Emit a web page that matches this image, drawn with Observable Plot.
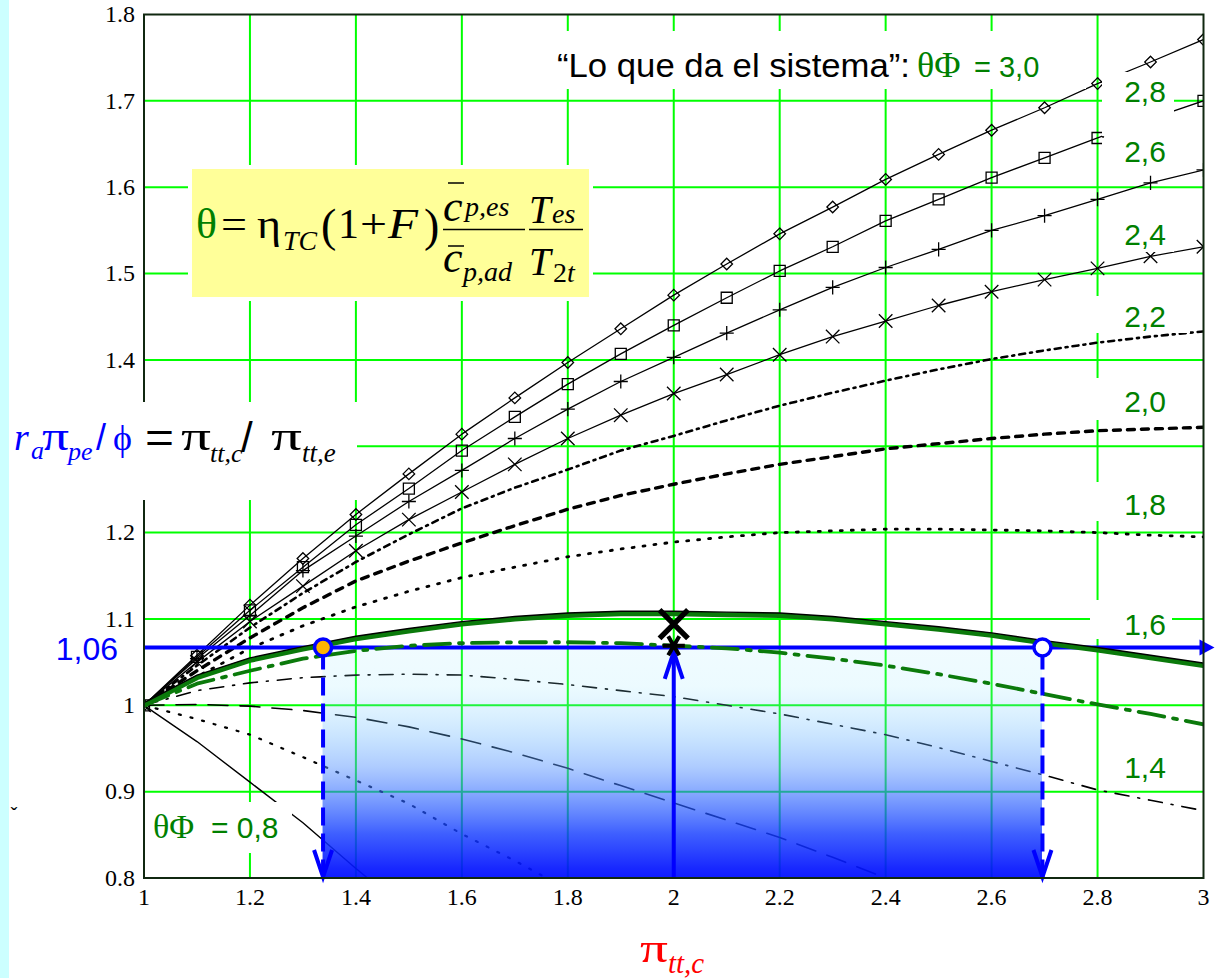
<!DOCTYPE html>
<html>
<head>
<meta charset="utf-8">
<script src="https://cdn.jsdelivr.net/npm/d3@7"></script>
<script src="https://cdn.jsdelivr.net/npm/@observablehq/plot@0.6"></script>
<style>
html,body{margin:0;padding:0;background:#fff;}
#wrap{position:relative;width:1215px;height:978px;overflow:hidden;background:#fff;}
#chart{position:absolute;left:0;top:0;}
#strip{position:absolute;left:0;top:0;width:9px;height:978px;background:#ccffff;z-index:5;}
</style>
</head>
<body>
<div id="wrap"><div id="chart"></div><div id="strip"></div></div>
<script>
// ---------------- DATA ----------------
const piTT    = [1.0,1.1,1.2,1.3,1.4,1.5,1.6,1.7,1.8,1.9,2.0,2.1,2.2,2.3,2.4,2.5,2.6,2.7,2.8,2.9,3.0];
const theta30 = [1.000,1.058,1.116,1.170,1.221,1.268,1.314,1.356,1.397,1.436,1.475,1.511,1.546,1.577,1.609,1.638,1.666,1.692,1.720,1.745,1.771];
const theta28 = [1.000,1.056,1.110,1.160,1.209,1.251,1.295,1.334,1.372,1.407,1.440,1.472,1.503,1.531,1.561,1.586,1.611,1.634,1.657,1.679,1.700];
const theta26 = [1.000,1.054,1.104,1.156,1.196,1.236,1.272,1.309,1.343,1.375,1.403,1.431,1.458,1.484,1.507,1.528,1.550,1.567,1.586,1.605,1.620];
const theta24 = [1.000,1.050,1.097,1.138,1.179,1.215,1.247,1.279,1.309,1.336,1.361,1.383,1.406,1.427,1.445,1.463,1.479,1.493,1.506,1.520,1.531];
const theta22 = [1.000,1.046,1.090,1.130,1.166,1.198,1.228,1.252,1.273,1.295,1.312,1.330,1.347,1.362,1.376,1.389,1.401,1.411,1.420,1.427,1.433];
const theta20 = [1.000,1.040,1.078,1.113,1.144,1.167,1.188,1.208,1.227,1.243,1.256,1.268,1.279,1.288,1.297,1.303,1.309,1.314,1.318,1.320,1.322];
const theta18 = [1.000,1.033,1.066,1.092,1.114,1.132,1.148,1.160,1.172,1.181,1.189,1.195,1.200,1.202,1.204,1.204,1.203,1.202,1.200,1.197,1.195];
const theta16 = [1.000,1.032,1.052,1.065,1.077,1.086,1.094,1.100,1.104,1.106,1.106,1.105,1.104,1.100,1.094,1.088,1.081,1.072,1.064,1.055,1.046];
const theta16sys = [1.000,1.025,1.040,1.054,1.063,1.069,1.072,1.073,1.073,1.072,1.069,1.066,1.061,1.054,1.046,1.036,1.025,1.013,1.001,0.990,0.978];
const theta14 = [1.000,1.017,1.026,1.032,1.035,1.036,1.035,1.030,1.024,1.017,1.010,1.000,0.990,0.978,0.966,0.951,0.935,0.919,0.902,0.890,0.878];
const piTT12  = [1.0,1.1,1.2,1.3,1.4,1.5,1.6,1.7,1.8,1.9,2.0,2.1,2.2,2.3,2.4];
const theta12 = [1.000,1.001,0.999,0.994,0.986,0.975,0.961,0.945,0.927,0.907,0.887,0.867,0.847,0.824,0.800];
const piTT10  = [1.0,1.1,1.2,1.3,1.4,1.5,1.6,1.7,1.76];
const theta10 = [1.000,0.984,0.966,0.940,0.913,0.886,0.851,0.820,0.800];
const piTT08  = [1.0,1.1,1.2,1.3,1.4,1.422];
const theta08 = [1.000,0.958,0.911,0.864,0.811,0.800];

// operating point annotations
const opLevel   = 1.067;          // "1,06"
const opPoints  = [1.338, 2.696]; // intersections with the 1,6 curve
const peakX     = 2.0;
const peakY     = 1.094;          // bold X (max of the curve)
const sysY      = 1.069;          // small star
const arrowTopY = 1.062;

// axis ticks / grid
const xTicks = [1,1.2,1.4,1.6,1.8,2,2.2,2.4,2.6,2.8,3];
const yTicks = [0.8,0.9,1,1.1,1.2,1.3,1.4,1.5,1.6,1.7,1.8];
const yTickHidden = 1.3;          // covered by the axis title in the reference
const xGrid  = [1.2,1.4,1.6,1.8,2,2.2,2.4,2.6,2.8];
const yGrid  = [0.9,1,1.1,1.2,1.3,1.4,1.5,1.6,1.7];

// labels
const rightLabels = ["2,8","2,6","2,4","2,2","2,0","1,8","1,6","1,4"];

// ---------------- CHART ----------------
const SERIF = "'Liberation Serif','Times New Roman',Times,serif";
const SANS  = "'Liberation Sans',Arial,Helvetica,sans-serif";
const GREEN = "#008000";
const BLUE  = "#0000ff";
const S = (xs, ys) => xs.map((x, i) => ({x, y: ys[i]}));
const fmt = d => String(+(+d).toFixed(1));

const marks = [
  Plot.gridX(xGrid, {stroke: "#00ff00", strokeOpacity: 1, strokeWidth: 2}),
  Plot.gridY(yGrid, {stroke: "#00ff00", strokeOpacity: 1, strokeWidth: 2})
];

const blackLines = [
  [piTT, theta30, {strokeWidth: 1.3}],
  [piTT, theta28, {strokeWidth: 1.3}],
  [piTT, theta26, {strokeWidth: 1.3}],
  [piTT, theta24, {strokeWidth: 1.3}],
  [piTT, theta22, {strokeWidth: 2.6, strokeDasharray: "6,5,2,5"}],
  [piTT, theta20, {strokeWidth: 3.4, strokeDasharray: "7,7"}],
  [piTT, theta18, {strokeWidth: 2.8, strokeDasharray: "2,9"}],
  [piTT, theta14, {strokeWidth: 1.6, strokeDasharray: "14,9,2,9"}],
  [piTT12, theta12, {strokeWidth: 1.6, strokeDasharray: "20,12"}],
  [piTT10, theta10, {strokeWidth: 2.2, strokeDasharray: "2,10"}],
  [piTT08, theta08, {strokeWidth: 1.4}]
];
for (const [xs, ys, o] of blackLines) {
  marks.push(Plot.line(S(xs, ys), {x: "x", y: "y", stroke: "#000", clip: true, ...o}));
}
const mk = {x: "x", y: "y", stroke: "#000", strokeWidth: 1.3, fill: "none", clip: true};
marks.push(
  Plot.dot(S(piTT, theta30), {...mk, symbol: "diamond2", r: 5.2}),
  Plot.dot(S(piTT, theta28), {...mk, symbol: "square2", r: 7}),
  Plot.dot(S(piTT, theta26), {...mk, symbol: "plus", r: 4.6}),
  Plot.dot(S(piTT, theta24), {...mk, symbol: "times", r: 6.2})
);

// shaded operating region (gradient defined below)
marks.push(Plot.rect([{x1: opPoints[0], x2: opPoints[1], y1: 0.8, y2: opLevel}],
  {x1: "x1", x2: "x2", y1: "y1", y2: "y2", fill: "url(#fadeBlue)"}));

// blue horizontal line with filled arrowhead
const triRight = {draw(c) { c.moveTo(0, 0); c.lineTo(-15, -8); c.lineTo(-15, 8); c.closePath(); }};
const vDown = {draw(c) { c.moveTo(-9, -27); c.lineTo(0, 0); c.lineTo(9, -27); }};
const vUp = {draw(c) { c.moveTo(-9, 27); c.lineTo(0, 0); c.lineTo(9, 27); }};
marks.push(
  Plot.ruleY([opLevel], {x1: 1, x2: 3, stroke: BLUE, strokeWidth: 4}),
  Plot.dot([{x: 3, y: opLevel}], {x: "x", y: "y", symbol: triRight, r: 5, fill: BLUE, stroke: "none", dx: 11})
);

// green curves
marks.push(
  Plot.line(S(piTT, theta16), {x: "x", y: "y", stroke: "#0b7a0b", strokeWidth: 5, clip: true}),
  Plot.line(S(piTT, theta16), {x: "x", y: "y", stroke: "#000", strokeWidth: 1.4, dy: -2.5, clip: true}),
  Plot.line(S(piTT, theta16sys), {x: "x", y: "y", stroke: "#0b7a0b", strokeWidth: 3.8, strokeDasharray: "26,9,4,9", clip: true})
);

// blue verticals
marks.push(
  Plot.ruleX(opPoints, {y1: 0.8, y2: opLevel, stroke: BLUE, strokeWidth: 4, strokeDasharray: "18,8"}),
  Plot.dot(opPoints.map(x => ({x, y: 0.8})), {x: "x", y: "y", symbol: vDown, r: 5, fill: "none", stroke: BLUE, strokeWidth: 4, dy: -1}),
  Plot.ruleX([peakX], {y1: 0.8, y2: arrowTopY, stroke: BLUE, strokeWidth: 4}),
  Plot.dot([{x: peakX, y: arrowTopY}], {x: "x", y: "y", symbol: vUp, r: 5, fill: "none", stroke: BLUE, strokeWidth: 4}),
  Plot.dot([{x: opPoints[0], y: opLevel}], {x: "x", y: "y", r: 8.5, fill: "#ffb400", stroke: BLUE, strokeWidth: 3.5}),
  Plot.dot([{x: opPoints[1], y: opLevel}], {x: "x", y: "y", r: 8.5, fill: "#fff", stroke: BLUE, strokeWidth: 3.5}),
  Plot.dot([{x: peakX, y: peakY}], {x: "x", y: "y", symbol: "times", r: 13, stroke: "#000", strokeWidth: 5.5}),
  Plot.dot([{x: peakX, y: sysY}], {x: "x", y: "y", symbol: "asterisk", r: 10.5, rotate: 90, stroke: "#000", strokeWidth: 4})
);

marks.push(
  Plot.frame({stroke: "#102810", strokeWidth: 2}),
  Plot.axisX(xTicks, {tickSize: 0, tickPadding: 10, tickFormat: fmt, label: null}),
  Plot.axisY(yTicks.filter(v => v !== yTickHidden), {tickSize: 0, tickPadding: 9, tickFormat: fmt, label: null})
);

const chart = Plot.plot({
  width: 1215, height: 978,
  marginLeft: 143.5, marginRight: 12, marginTop: 14, marginBottom: 100.5,
  x: {domain: [1, 3], label: null},
  y: {domain: [0.8, 1.8], label: null},
  style: {fontFamily: SERIF, fontSize: "24px", color: "#000", background: "#fff", overflow: "visible"},
  marks
});
document.getElementById("chart").append(chart);

// ---------------- ANNOTATIONS ----------------
const svg = d3.select(chart);
svg.selectAll("[aria-label='x-axis tick label'], [aria-label='y-axis tick label']")
  .attr("font-size", 24).attr("font-family", SERIF);

const defs = svg.insert("defs", ":first-child");
const grad = defs.append("linearGradient").attr("id", "fadeBlue")
  .attr("x1", 0).attr("y1", 0).attr("x2", 0).attr("y2", 1);
[[0, "rgb(150,230,255)", 0.14], [0.17, "rgb(150,230,255)", 0.18], [0.38, "rgb(98,178,255)", 0.33],
 [0.52, "rgb(90,150,255)", 0.49], [0.67, "rgb(43,97,255)", 0.64], [0.81, "rgb(20,60,255)", 0.82],
 [0.96, "rgb(4,21,255)", 0.92], [1, "rgb(0,16,255)", 0.94]].forEach(([o, c, a]) =>
  grad.append("stop").attr("offset", o).attr("stop-color", c).attr("stop-opacity", a));

const boxes = svg.append("g");
const box = (x, y, w, h, fill = "#fff") => boxes.append("rect").attr("x", x).attr("y", y).attr("width", w).attr("height", h).attr("fill", fill);
box(548, 31, 538, 58);           // top statement
box(9, 402, 348, 98);            // y label
box(188, 165, 405, 136);         // formula margin
box(192, 169, 397, 128, "#ffff99");
box(1102, 72, 72, 64);           // 2,8
box(1102, 138, 72, 30);          // 2,6
box(1102, 220, 72, 32);          // 2,4
box(1090, 296, 100, 37);         // 2,2
box(1090, 378, 100, 42);         // 2,0
box(1090, 482, 100, 39);         // 1,8
box(1090, 600, 82, 39);          // 1,6
box(150, 802, 142, 51);          // 0,8

const T = svg.append("g");
function txt(x, y, s, o = {}) {
  const t = T.append("text").attr("x", x).attr("y", y).text(s)
    .attr("font-family", o.family || SERIF).attr("font-size", o.size || 42)
    .attr("fill", o.fill || "#000").attr("text-anchor", o.anchor || "start");
  if (o.italic) t.attr("font-style", "italic");
  if (o.len) t.attr("textLength", o.len).attr("lengthAdjust", "spacingAndGlyphs");
  return t;
}
function hline(x1, x2, y, w = 1.5) {
  T.append("line").attr("x1", x1).attr("x2", x2).attr("y1", y).attr("y2", y).attr("stroke", "#000").attr("stroke-width", w);
}

// formula
txt(196, 238, "θ", {fill: GREEN, len: 21});
txt(221, 238, "=", {len: 26});
txt(257, 238, "η", {len: 24});
txt(283, 250, "TC", {italic: true, size: 28, len: 34});
txt(321, 241, "(", {size: 46});
txt(338, 238, "1");
txt(360, 238, "+", {len: 27});
txt(388, 238, "F", {italic: true, len: 30});
txt(424, 241, ")", {size: 46});
hline(443, 525, 229.5);
txt(443, 221, "c", {italic: true, size: 44});
hline(448, 464, 183);
txt(465, 216, "p,es", {italic: true, size: 28});
txt(443, 272, "c", {italic: true, size: 44});
hline(448, 464, 246);
txt(463, 281, "p,ad", {italic: true, size: 28});
hline(529, 583, 229.5);
txt(529, 223, "T", {italic: true, size: 39});
txt(552, 223, "es", {italic: true, size: 28});
txt(529, 275, "T", {italic: true, size: 39});
txt(553, 282, "2", {size: 28});
txt(567, 282, "t", {italic: true, size: 28});

// y label
txt(14, 450, "r", {italic: true, size: 38, fill: BLUE});
txt(31, 459, "a", {italic: true, size: 26, fill: BLUE});
txt(42, 450, "π", {size: 40, fill: BLUE, len: 27});
txt(68, 460, "pe", {italic: true, size: 26, fill: BLUE});
txt(96, 450, "/", {family: SANS, size: 36, fill: BLUE});
txt(113, 450, "ϕ", {size: 36, fill: BLUE});
txt(145, 452, "=", {family: SANS, size: 42, len: 29});
txt(181, 450, "π", {size: 40, len: 30});
txt(210, 462, "tt,c", {italic: true, size: 26});
txt(241, 452, "/", {family: SANS, size: 42});
txt(271, 450, "π", {size: 40, len: 31});
txt(302, 462, "tt,e", {italic: true, size: 27});

// x label
txt(640, 962, "π", {size: 42, fill: "#ff0000", len: 28});
txt(668, 973, "tt,c", {italic: true, size: 29, fill: "#ff0000"});

// top statement
txt(557, 77, "“Lo que da el sistema”:", {family: SANS, size: 33, len: 353});
txt(917, 77, "θΦ", {size: 36, fill: GREEN});
txt(974, 77, "= 3,0", {family: SANS, size: 29, fill: GREEN});

// right-hand labels
const labelBase = [102, 162, 245, 327, 412, 515, 635, 778];
rightLabels.forEach((s, i) => txt(1145, labelBase[i], s, {family: SANS, size: 30, fill: GREEN, anchor: "middle"}));

// bottom-left label
txt(153, 838, "θΦ", {size: 34, fill: GREEN});
txt(211, 838, "= 0,8", {family: SANS, size: 30, fill: GREEN});

// 1,06
txt(118, 660, "1,06", {family: SANS, size: 32, fill: BLUE, anchor: "end"});

// stray mark on the left
txt(14, 822, "ˇ", {family: SANS, size: 20, anchor: "middle"});
</script>
</body>
</html>
